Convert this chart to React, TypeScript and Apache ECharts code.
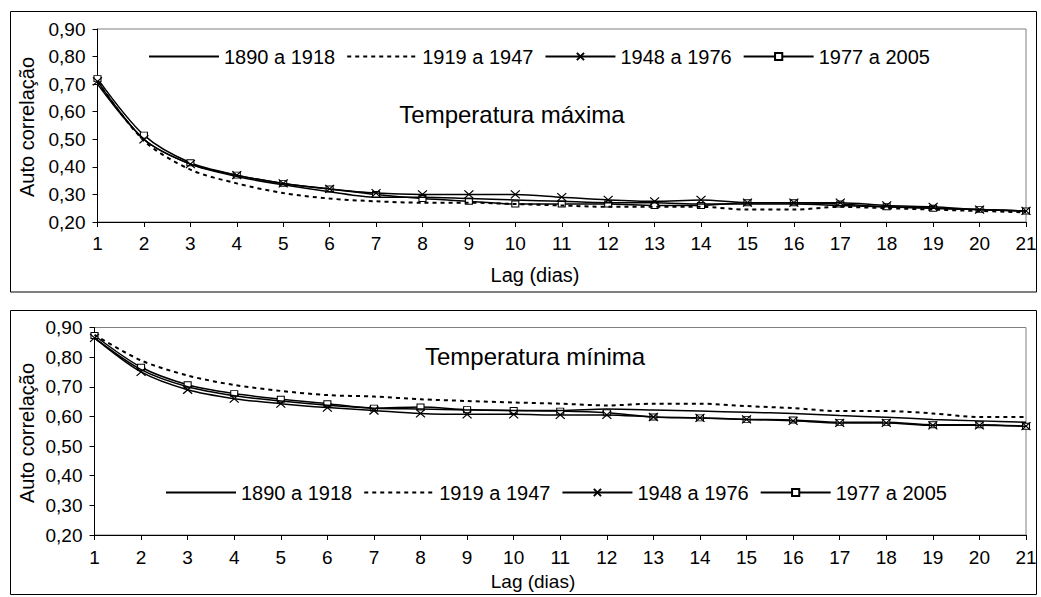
import React, { useEffect, useRef } from "react";
import * as echarts from "echarts";

const lags = ["1","2","3","4","5","6","7","8","9","10","11","12","13","14","15","16","17","18","19","20","21"];
const seriesNames = ["1890 a 1918", "1919 a 1947", "1948 a 1976", "1977 a 2005"];
const yTicks = [0.2, 0.3, 0.4, 0.5, 0.6, 0.7, 0.8, 0.9];

// Temperatura máxima
const max1890 = [0.70, 0.50, 0.41, 0.365, 0.335, 0.31, 0.29, 0.29, 0.285, 0.28, 0.275, 0.27, 0.27, 0.265, 0.265, 0.265, 0.26, 0.255, 0.25, 0.245, 0.24];
const max1919 = [0.71, 0.495, 0.39, 0.34, 0.305, 0.285, 0.275, 0.27, 0.27, 0.265, 0.26, 0.255, 0.255, 0.255, 0.245, 0.245, 0.255, 0.25, 0.245, 0.24, 0.235];
const max1948 = [0.71, 0.50, 0.41, 0.37, 0.34, 0.32, 0.305, 0.30, 0.30, 0.30, 0.29, 0.28, 0.275, 0.28, 0.27, 0.27, 0.27, 0.26, 0.255, 0.245, 0.24];
const max1977 = [0.72, 0.515, 0.415, 0.37, 0.34, 0.32, 0.30, 0.285, 0.275, 0.265, 0.265, 0.265, 0.26, 0.26, 0.27, 0.27, 0.265, 0.255, 0.25, 0.245, 0.24];

// Temperatura mínima
const min1890 = [0.865, 0.758, 0.70, 0.67, 0.652, 0.638, 0.628, 0.625, 0.622, 0.62, 0.62, 0.625, 0.622, 0.618, 0.614, 0.61, 0.603, 0.597, 0.59, 0.585, 0.58];
const min1919 = [0.875, 0.789, 0.738, 0.706, 0.686, 0.672, 0.667, 0.658, 0.652, 0.647, 0.643, 0.637, 0.643, 0.643, 0.635, 0.628, 0.618, 0.618, 0.61, 0.598, 0.598];
const min1948 = [0.865, 0.75, 0.69, 0.66, 0.643, 0.63, 0.62, 0.61, 0.607, 0.607, 0.605, 0.605, 0.598, 0.595, 0.59, 0.585, 0.578, 0.578, 0.57, 0.57, 0.567];
const min1977 = [0.873, 0.766, 0.707, 0.677, 0.658, 0.643, 0.628, 0.632, 0.623, 0.62, 0.618, 0.612, 0.598, 0.595, 0.59, 0.588, 0.58, 0.58, 0.572, 0.572, 0.567];

const FONT = '"Liberation Sans", Arial, sans-serif';
const X_SYMBOL = "path://M0,0L10,10M10,0L0,10";
const HIDDEN_ITEM = { color: "rgba(0,0,0,0)", borderColor: "rgba(0,0,0,0)", borderWidth: 0, opacity: 0 };

function styleFor(idx: number) {
  if (idx === 0) {
    return { symbol: "circle", symbolSize: 0, lineStyle: { color: "#000", width: 1.5, type: "solid" }, itemStyle: { color: "#000" } };
  }
  if (idx === 1) {
    return { symbol: "circle", symbolSize: 0, lineStyle: { color: "#000", width: 2, type: [4, 4] }, itemStyle: { color: "#000" } };
  }
  if (idx === 2) {
    return {
      symbol: X_SYMBOL,
      symbolSize: [9, 8],
      lineStyle: { color: "#000", width: 1.5, type: "solid" },
      itemStyle: { color: "none", borderColor: "#000", borderWidth: 1.2 },
    };
  }
  return {
    symbol: "rect",
    symbolSize: [7, 6],
    lineStyle: { color: "#000", width: 1.5, type: "solid" },
    itemStyle: { color: "#fff", borderColor: "#000", borderWidth: 1 },
  };
}

function makeSeries(data: number[][], gridIdx: number) {
  return data.map((d, i) => ({
    name: seriesNames[i],
    type: "line",
    xAxisIndex: gridIdx,
    yAxisIndex: gridIdx,
    data: d,
    smooth: 0.3,
    showSymbol: i >= 2,
    showAllSymbol: true,
    z: 10 - i,
    ...styleFor(i),
  }));
}

function xAxisCfg(gridIndex: number, margin: number) {
  return {
    type: "category",
    gridIndex,
    data: lags,
    boundaryGap: false,
    axisLine: { lineStyle: { color: "#000", width: 1 } },
    axisTick: { show: true, length: 5, lineStyle: { color: "#000" } },
    axisLabel: { interval: 0, color: "#000", fontSize: 19, fontFamily: FONT, margin },
    splitLine: { show: false },
  };
}

function yAxisCfg(gridIndex: number) {
  return {
    type: "value",
    gridIndex,
    min: yTicks[0],
    max: yTicks[yTicks.length - 1],
    interval: 0.1,
    axisLine: { show: true, lineStyle: { color: "#000", width: 1 } },
    axisTick: { show: true, length: 5, lineStyle: { color: "#000" } },
    axisLabel: {
      color: "#000",
      fontSize: 19,
      fontFamily: FONT,
      margin: 12,
      formatter: (v: number) => v.toFixed(2).replace(".", ","),
    },
    splitLine: { show: false },
  };
}

function legendCfg(left: number, top: number) {
  return {
    left,
    top,
    orient: "horizontal",
    itemWidth: 70,
    itemHeight: 9,
    itemGap: 11,
    selectedMode: false,
    textStyle: { color: "#000", fontSize: 20, fontFamily: FONT },
    data: seriesNames.map((name, i) => (i < 2 ? { name, itemStyle: HIDDEN_ITEM } : { name })),
  };
}

function textEl(text: string, x: number, y: number, size: number, rotation = 0) {
  return {
    type: "text",
    x,
    y,
    rotation,
    style: {
      text,
      fill: "#000",
      font: `${size}px ${FONT}`,
      align: "center",
      verticalAlign: "middle",
    },
  };
}

export default function App() {
  const ref = useRef<HTMLDivElement>(null);
  useEffect(() => {
    if (!ref.current) return;
    const chart = echarts.init(ref.current, undefined, { renderer: "svg" });
    chart.setOption({
      animation: false,
      backgroundColor: "#fff",
      grid: [
        { left: 97.5, right: 15, top: 29, height: 193, show: true, borderColor: "#808080", borderWidth: 1, backgroundColor: "transparent" },
        { left: 94.5, right: 15, top: 327.5, height: 207.5, show: true, borderColor: "#808080", borderWidth: 1, backgroundColor: "transparent" },
      ],
      xAxis: [xAxisCfg(0, 12), xAxisCfg(1, 13)],
      yAxis: [yAxisCfg(0), yAxisCfg(1)],
      legend: [legendCfg(143, 41.5), legendCfg(160, 477.5)],
      series: [
        ...makeSeries([max1890, max1919, max1948, max1977], 0),
        ...makeSeries([min1890, min1919, min1948, min1977], 1),
      ],
      graphic: [
        { type: "rect", shape: { x: 10.5, y: 11.5, width: 1026, height: 280.5 }, style: { fill: "none", stroke: "#000", lineWidth: 1 }, silent: true, z: -1 },
        { type: "rect", shape: { x: 10.5, y: 310.5, width: 1026, height: 284 }, style: { fill: "none", stroke: "#000", lineWidth: 1 }, silent: true, z: -1 },
        textEl("Temperatura máxima", 512, 114, 24),
        textEl("Temperatura mínima", 535, 356, 24),
        textEl("Lag (dias)", 535, 275, 20),
        textEl("Lag (dias)", 533, 581, 19),
        textEl("Auto correlação", 27, 127, 20, Math.PI / 2),
        textEl("Auto correlação", 27, 433, 20, Math.PI / 2),
      ],
    });
    return () => chart.dispose();
  }, []);
  return <div ref={ref} style={{ position: "fixed", left: 0, top: 0, width: 1041, height: 597 }} />;
}
